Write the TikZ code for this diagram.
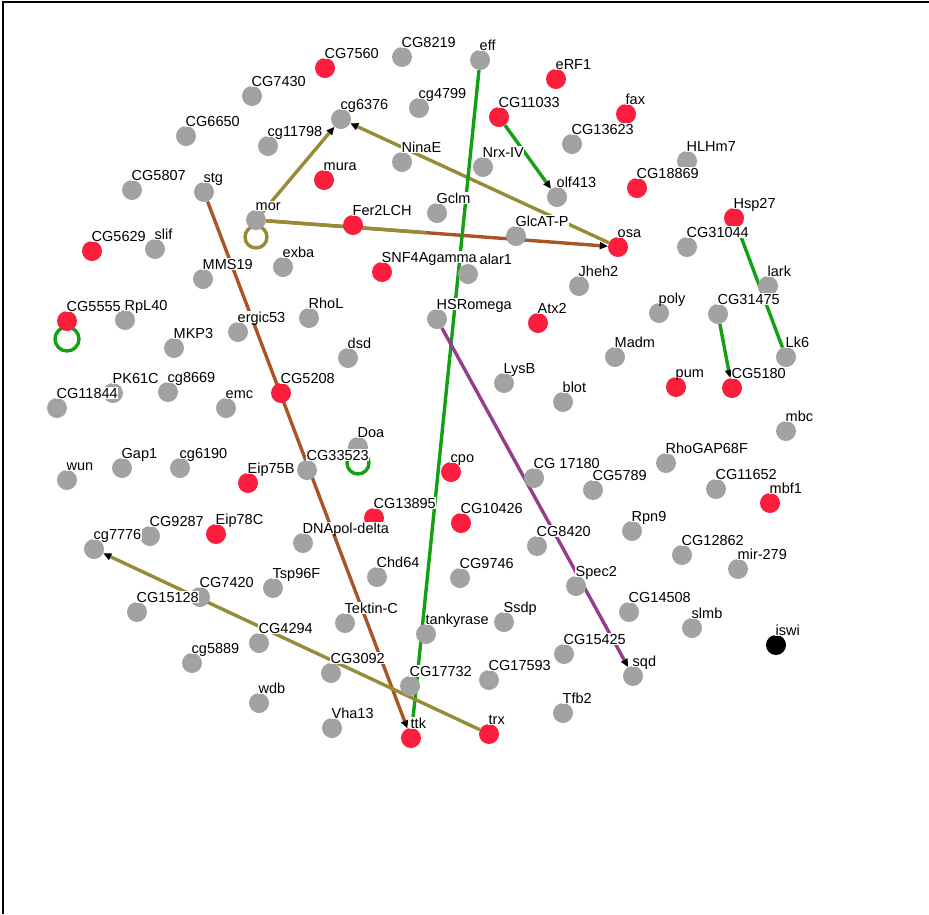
\documentclass[tikz,border=0pt]{standalone}
\usepackage{fontspec}
\setmainfont{Liberation Sans}
\usetikzlibrary{arrows.meta,calc}
\definecolor{genered}{RGB}{250,30,60}
\definecolor{genegray}{RGB}{162,162,162}
\definecolor{edgeolive}{RGB}{150,140,55}
\definecolor{edgebrown}{RGB}{170,85,40}
\definecolor{edgegreen}{RGB}{20,160,20}
\definecolor{edgepurple}{RGB}{150,60,140}
\pgfdeclarelayer{background}
\pgfsetlayers{background,main}
\tikzset{
  gene/.style={circle, minimum size=20pt, inner sep=0pt, draw=none},
  genelabel/.style={anchor=base west, fill=white, inner xsep=0.5pt, inner ysep=1pt,
    text depth=0pt, font=\fontsize{14.5}{17}\selectfont},
  edgeline/.style={line width=3.4pt},
  arrowed/.style={-{Triangle[length=8pt,width=7pt,color=black]}}
}
% name/x/y/colour/label
\def\genes{CG7560/325/68/genered/CG7560, CG8219/402/57/genegray/CG8219,
  eff/480/60/genegray/eff, eRF1/556/79/genered/eRF1, CG7430/252/96/genegray/CG7430,
  cg6376/341/119/genegray/cg6376, cg4799/419/108/genegray/cg4799,
  CG11033/499/117/genered/CG11033, fax/626/114/genered/fax,
  CG13623/572/144/genegray/CG13623, CG6650/186/136/genegray/CG6650,
  cg11798/268/146/genegray/cg11798, NinaE/402/162/genegray/NinaE,
  NrxIV/483/167/genegray/Nrx-IV, HLHm7/687/161/genegray/HLHm7,
  mura/324/180/genered/mura, olf413/557/197/genegray/olf413,
  CG18869/637/188/genered/CG18869, CG5807/132/190/genegray/CG5807,
  stg/204/192/genegray/stg, Gclm/437/213/genegray/Gclm, mor/256/220/genegray/mor,
  Fer2LCH/353/225/genered/Fer2LCH, GlcATP/516/236/genegray/GlcAT-P,
  osa/618/247/genered/osa, Hsp27/734/218/genered/Hsp27,
  CG31044/687/247/genegray/CG31044, CG5629/92/251/genered/CG5629,
  slif/155/249/genegray/slif, MMS19/203/279/genegray/MMS19,
  exba/283/267/genegray/exba,
  SNF4Agamma/382/272/genered/SNF4Agamma, Jheh2/579/286/genegray/Jheh2,
  poly/659/313/genegray/poly, lark/768/286/genegray/lark,
  CG31475/718/314/genegray/CG31475, CG5555/67/321/genered/CG5555,
  RpL40/125/320/genegray/RpL40, ergic53/238/332/genegray/ergic53,
  RhoL/309/318/genegray/RhoL, HSRomega/437/319/genegray/HSRomega,
  Atx2/538/323/genered/Atx2, Madm/615/357/genegray/Madm, Lk6/786/357/genegray/Lk6,
  MKP3/174/348/genegray/MKP3, dsd/348/358/genegray/dsd, LysB/504/383/genegray/LysB,
  blot/563/402/genegray/blot, pum/676/387/genered/pum, CG5180/732/388/genered/CG5180,
  PK61C/113/393/genegray/PK61C, CG11844/57/408/genegray/CG11844,
  cg8669/168/392/genegray/cg8669, emc/226/408/genegray/emc,
  CG5208/281/393/genered/CG5208, mbc/786/431/genegray/mbc,
  Doa/358/447/genegray/Doa, CG33523/307/470/genegray/CG33523,
  cpo/451/472/genered/cpo, CG17180/534/478/genegray/CG 17180,
  CG5789/593/490/genegray/CG5789, RhoGAP68F/666/463/genegray/RhoGAP68F,
  CG11652/716/489/genegray/CG11652, mbf1/770/503/genered/mbf1,
  wun/67/480/genegray/wun, Gap1/122/468/genegray/Gap1, cg6190/180/468/genegray/cg6190,
  Eip75B/248/483/genered/Eip75B, CG9287/150/536/genegray/CG9287,
  Eip78C/216/534/genered/Eip78C, cg7776/94/549/genegray/cg7776,
  CG13895/374/518/genered/CG13895, DNApol/303/543/genegray/DNApol-delta,
  CG10426/461/523/genered/CG10426, CG8420/537/546/genegray/CG8420,
  Rpn9/632/531/genegray/Rpn9, CG12862/682/555/genegray/CG12862,
  mir279/738/569/genegray/mir-279, Chd64/377/577/genegray/Chd64,
  CG9746/460/578/genegray/CG9746, Spec2/576/586/genegray/Spec2,
  CG7420/200/597/genegray/CG7420, Tsp96F/273/588/genegray/Tsp96F,
  CG15128/137/612/genegray/CG15128, CG14508/629/612/genegray/CG14508,
  TektinC/345/623/genegray/Tektin-C, tankyrase/426/634/genegray/tankyrase,
  Ssdp/504/622/genegray/Ssdp, slmb/692/628/genegray/slmb,
  CG4294/259/643/genegray/CG4294, iswi/776/645/black/iswi,
  CG15425/564/654/genegray/CG15425, cg5889/192/663/genegray/cg5889,
  CG3092/331/673/genegray/CG3092, sqd/633/676/genegray/sqd,
  CG17732/410/686/genegray/CG17732, CG17593/489/680/genegray/CG17593,
  wdb/259/703/genegray/wdb, Tfb2/563/713/genegray/Tfb2,
  Vha13/332/728/genegray/Vha13, ttk/411/738/genered/ttk, trx/489/734/genered/trx}

\begin{document}
\begin{tikzpicture}[x=1pt,y=-1pt]
  \useasboundingbox (0,0) rectangle (929,914);
  \node[gene, fill=genegray] (alar1) at (468,274) {};
  \foreach \n/\x/\y/\c/\t in \genes
    \node[gene, fill=\c] (\n) at (\x,\y) {};
  \node[genelabel] at (479,264) {alar1};
  \foreach \n/\x/\y/\c/\t in \genes
    \node[genelabel] at (\x-1,\y-10) {\t};
  \begin{pgfonlayer}{background}
    \draw[edgeline, edgeolive, arrowed] (mor) -- (cg6376);
    \draw[edgeline, edgeolive, arrowed] (osa) -- (cg6376);
    \draw[edgeline, edgebrown, arrowed] (mor) -- (osa);
    \draw[edgeline, edgeolive] (mor) -- ($(mor)!0.47!(osa)$);
    \draw[edgeline, edgebrown, arrowed] (stg) -- (ttk);
    \draw[edgeline, edgegreen] (eff) -- (ttk);
    \draw[edgeline, edgegreen, arrowed] (CG11033) -- (olf413);
    \draw[edgeline, edgegreen] (Hsp27) -- (Lk6);
    \draw[edgeline, edgegreen, arrowed] (CG31475) -- (CG5180);
    \draw[edgeline, edgepurple, arrowed] (HSRomega) -- (sqd);
    \draw[edgeline, edgeolive, arrowed] (trx) -- (cg7776);
    % self loops
    \draw[edgeline, edgeolive] ([yshift=-17pt]mor.center) circle[radius=11pt];
    \draw[edgeline, edgegreen] ([yshift=-18pt]CG5555.center) circle[radius=12pt];
    \draw[edgeline, edgegreen] ([yshift=-16pt]Doa.center) circle[radius=11pt];
  \end{pgfonlayer}
  \draw[line width=2.5pt] (3,914) -- (3,2) -- (929,2);
\end{tikzpicture}
\end{document}
